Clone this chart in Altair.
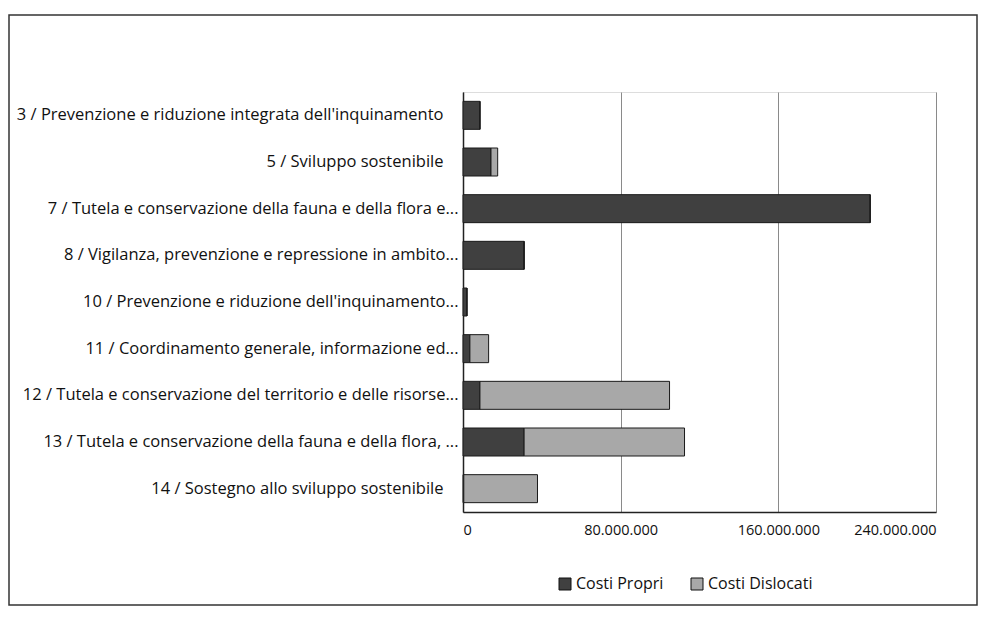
import altair as alt
import pandas as pd

categories = [
    "3 / Prevenzione e riduzione integrata dell'inquinamento",
    "5 / Sviluppo  sostenibile",
    "7 / Tutela e conservazione della fauna e della flora e...",
    "8 / Vigilanza, prevenzione e repressione in ambito...",
    "10 / Prevenzione e riduzione dell'inquinamento...",
    "11 / Coordinamento generale, informazione ed...",
    "12 / Tutela e conservazione del territorio e delle risorse...",
    "13 / Tutela e conservazione della fauna e della flora, ...",
    "14 / Sostegno allo sviluppo sostenibile",
]
costi_propri = [8.6e6, 14.2e6, 206.6e6, 31.0e6, 2.0e6, 3.5e6, 8.6e6, 31.0e6, 0.4e6]
costi_dislocati = [0, 3.4e6, 0, 0, 0, 9.5e6, 96.2e6, 81.4e6, 37.4e6]
series = ["Costi Propri", "Costi Dislocati"]
colors = ["#404040", "#a8a8a8"]
x_ticks = [0, 80e6, 160e6, 240e6]

rows = []
for i, c in enumerate(categories):
    rows.append({"cat": c, "serie": series[0], "val": costi_propri[i], "ord": 0})
    rows.append({"cat": c, "serie": series[1], "val": costi_dislocati[i], "ord": 1})
df = pd.DataFrame(rows)

FONT = "Open Sans"
W, H = 473, 420

bars = alt.Chart(df).mark_bar(stroke="#1a1a1a", strokeWidth=1).encode(
    y=alt.Y("cat:N", sort=categories, title=None,
            scale=alt.Scale(paddingInner=0.4, paddingOuter=0.2),
            axis=alt.Axis(labelFontSize=16.5, labelFont=FONT, labelColor="#111",
                          labelLimit=500, ticks=False,
                          labelPadding={"condition": {"test": "slice(datum.value, -3) == '...'", "value": 5}, "value": 20},
                          domainColor="#222", domainWidth=1.5, grid=False)),
    x=alt.X("val:Q", stack="zero", title=None,
            scale=alt.Scale(domain=[0, 240e6], nice=False),
            axis=alt.Axis(values=x_ticks, labelFont=FONT, labelFontSize=14.5,
                          labelColor="#111", labelPadding=11, ticks=False,
                          grid=True, gridColor="#8a8a8a", gridWidth=1,
                          domainColor="#222", domainWidth=1.5,
                          labelExpr="replace(replace(format(datum.value, ','), ',', '.'), ',', '.')")),
    color=alt.Color("serie:N", sort=series,
                    scale=alt.Scale(domain=series, range=colors),
                    legend=alt.Legend(title=None, orient="none", direction="horizontal",
                                      legendX=94, legendY=484, symbolType="square",
                                      symbolSize=144, symbolStrokeColor="#111",
                                      symbolStrokeWidth=1, labelFont=FONT,
                                      labelFontSize=16, labelColor="#111",
                                      columnPadding=25, labelOffset=3)),
    order=alt.Order("ord:Q"),
)

frame = alt.Chart(pd.DataFrame({"a": [0]})).mark_rect(
    fill=None, stroke="#333", strokeWidth=1.5
).encode(
    x=alt.value(-454), x2=alt.value(514),
    y=alt.value(-77), y2=alt.value(513),
)

chart = alt.layer(frame, bars).properties(
    width=W, height=H,
    autosize=alt.AutoSizeParams(type="none"),
    padding={"left": 455, "top": 84, "right": 42, "bottom": 100},
).configure_view(stroke=None).configure(font=FONT)

chart.save("out.html", embed_options={"renderer": "svg", "actions": False})
